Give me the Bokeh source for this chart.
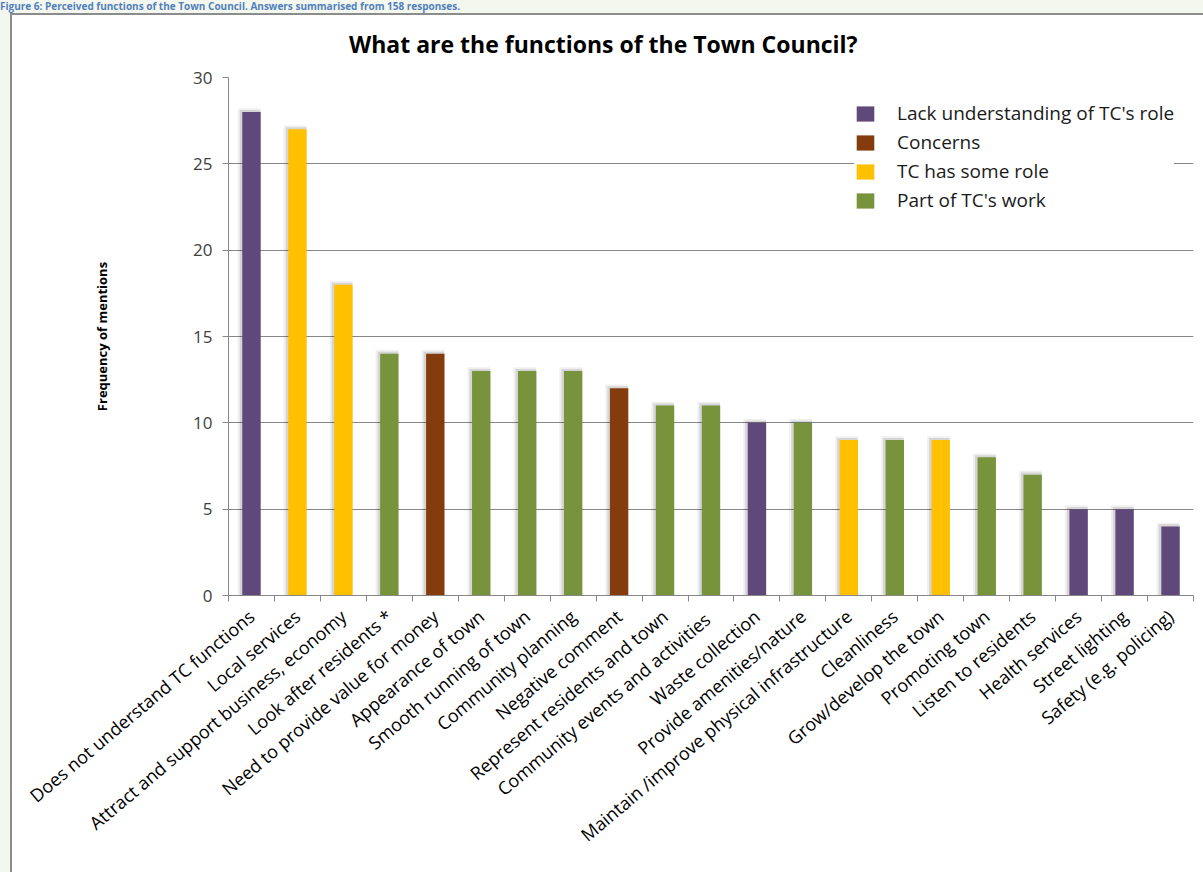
import numpy as np
from bokeh.plotting import figure
from bokeh.layouts import column
from bokeh.models import (ColumnDataSource, FixedTicker, Legend, LegendItem, Div, Range1d)
from bokeh.transform import dodge
from bokeh.embed import file_html
from bokeh.resources import INLINE

categories = [
    "Does not understand TC functions",
    "Local services",
    "Attract and support business, economy",
    "Look after residents *",
    "Need to provide value for money",
    "Appearance of town",
    "Smooth running of town",
    "Community planning",
    "Negative comment",
    "Represent residents and town",
    "Community events  and activities",
    "Waste collection",
    "Provide amenities/nature",
    "Maintain /improve physical infrastructure",
    "Cleanliness",
    "Grow/develop the town",
    "Promoting town",
    "Listen to residents",
    "Health services",
    "Street lighting",
    "Safety (e.g. policing)",
]
values = [28, 27, 18, 14, 14, 13, 13, 13, 12, 11, 11, 10, 10, 9, 9, 9, 8, 7, 5, 5, 4]
groups = [
    "Lack understanding of TC's role",
    "TC has some role",
    "TC has some role",
    "Part of TC's work",
    "Concerns",
    "Part of TC's work",
    "Part of TC's work",
    "Part of TC's work",
    "Concerns",
    "Part of TC's work",
    "Part of TC's work",
    "Lack understanding of TC's role",
    "Part of TC's work",
    "TC has some role",
    "Part of TC's work",
    "TC has some role",
    "Part of TC's work",
    "Part of TC's work",
    "Lack understanding of TC's role",
    "Lack understanding of TC's role",
    "Lack understanding of TC's role",
]
group_names = ["Lack understanding of TC's role", "Concerns", "TC has some role", "Part of TC's work"]
group_colors = ["#5F497A", "#843C0C", "#FFC000", "#77933C"]
y_ticks = [0, 5, 10, 15, 20, 25, 30]

title_text = "What are the functions of the Town Council?"
caption_text = "Figure 6: Perceived functions of the Town Council. Answers summarised from 158 responses."

FONT = "Open Sans"
GRAY = "#878787"

n = len(categories)
idx = list(range(n))

p = figure(width=1193, height=807,
           x_range=Range1d(-0.5, n - 0.5), y_range=Range1d(0, 30),
           output_backend="svg", toolbar_location=None,
           min_border_left=216, min_border_right=12,
           min_border_top=12, min_border_bottom=277,
           border_fill_color="white", background_fill_color="white",
           outline_line_color=None)

legend_items = []
for name, color in zip(group_names, group_colors):
    sel = [i for i in idx if groups[i] == name]
    src = ColumnDataSource(dict(x=[idx[i] for i in sel], top=[values[i] for i in sel]))
    p.vbar(x=dodge("x", -0.05), top=dodge("top", 0.22), width=0.5, bottom=0,
           fill_color="black", fill_alpha=0.06, line_color=None, source=src)
    p.vbar(x=dodge("x", -0.03), top=dodge("top", 0.12), width=0.45, bottom=0,
           fill_color="black", fill_alpha=0.11, line_color=None, source=src)
    r = p.vbar(x="x", top="top", width=0.4, bottom=0, source=src,
               fill_color=color, line_color=None)
    legend_items.append(LegendItem(label=name, renderers=[r]))

legend = Legend(items=legend_items, location=(626, 382),
                glyph_width=22, glyph_height=19, label_standoff=21,
                label_height=20, spacing=3, padding=4, margin=0,
                label_text_font=FONT, label_text_font_size="19px",
                label_text_color="#1a1a1a",
                background_fill_color="white", background_fill_alpha=1.0,
                border_line_color=None)
p.add_layout(legend)

# grids
p.xgrid.visible = False
p.ygrid.ticker = FixedTicker(ticks=y_ticks)
p.ygrid.grid_line_color = GRAY
p.ygrid.grid_line_width = 1

# y axis
p.yaxis.ticker = FixedTicker(ticks=y_ticks)
p.yaxis.axis_line_color = GRAY
p.yaxis.major_tick_line_color = GRAY
p.yaxis.major_tick_out = 6
p.yaxis.major_tick_in = 0
p.yaxis.minor_tick_line_color = None
p.yaxis.major_label_text_font = FONT
p.yaxis.major_label_text_font_size = "17px"
p.yaxis.major_label_text_color = "#404040"
p.yaxis.major_label_standoff = 10
p.yaxis.axis_label = "Frequency of mentions"
p.yaxis.axis_label_text_font = FONT
p.yaxis.axis_label_text_font_size = "13px"
p.yaxis.axis_label_text_font_style = "bold"
p.yaxis.axis_label_text_color = "black"
p.yaxis.axis_label_standoff = 79

# x axis
p.xaxis.ticker = FixedTicker(ticks=idx, minor_ticks=[i - 0.5 for i in range(n + 1)])
p.xaxis.major_label_overrides = {i: c for i, c in zip(idx, categories)}
p.xaxis.major_label_orientation = 0.70
p.xaxis.major_tick_line_color = None
p.xaxis.major_tick_out = 0
p.xaxis.major_tick_in = 0
p.xaxis.minor_tick_line_color = GRAY
p.xaxis.minor_tick_out = 6
p.xaxis.minor_tick_in = 0
p.xaxis.axis_line_color = GRAY
p.xaxis.major_label_text_font = FONT
p.xaxis.major_label_text_font_size = "18px"
p.xaxis.major_label_text_color = "black"
p.xaxis.major_label_standoff = 12

# chart title (inside the white chart box)
title_div = Div(text='<div style="padding-left:337px; padding-top:8px; line-height:42px; '
                     'white-space:nowrap">' + title_text + '</div>',
                width=1193, height=50, margin=(0, 0, 0, 0),
                styles={"color": "black", "font-weight": "bold", "font-size": "23px",
                        "font-family": "Open Sans", "background-color": "white"})

box = column(title_div, p, spacing=0, margin=(0, 0, 0, 10),
             styles={"border-left": "2px solid #8C8C8C", "border-top": "2px solid #8C8C8C",
                     "background-color": "white"})

# caption strip above the chart box
cap_div = Div(text=caption_text, width=1203, height=13, margin=(0, 0, 0, 0),
              styles={"color": "#4F81BD", "font-weight": "bold", "font-size": "10px",
                      "font-family": "Open Sans", "line-height": "13px",
                      "white-space": "nowrap"})

page = column(cap_div, box, spacing=0, styles={"background-color": "#F4F7EE"})

open("out.html", "w").write(file_html(page, INLINE))
